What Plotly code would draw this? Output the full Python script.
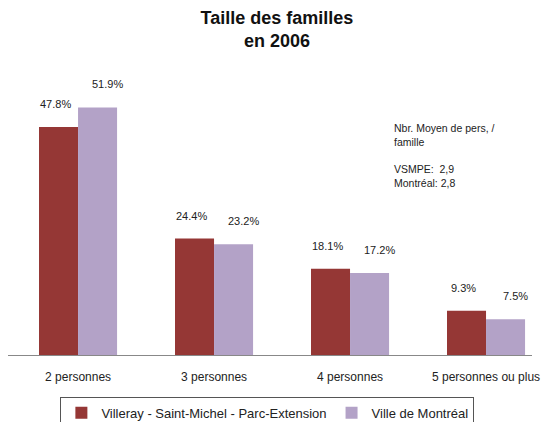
import plotly.graph_objects as go

# Family size, 2006 (share of families, %)
categories = ['2 personnes', '3 personnes', '4 personnes', '5 personnes ou plus']
vsmpe = [47.8, 24.4, 18.1, 9.3]
montreal = [51.9, 23.2, 17.2, 7.5]
series_names = ['Villeray - Saint-Michel - Parc-Extension', 'Ville de Montréal']
colors = ['#953735', '#B3A2C7']

FONT = 'Liberation Sans, Arial, sans-serif'
x_idx = list(range(len(categories)))

fig = go.Figure()
fig.add_trace(go.Bar(x=x_idx, y=vsmpe, name=series_names[0],
                     marker=dict(color=colors[0], line_width=0)))
fig.add_trace(go.Bar(x=x_idx, y=montreal, name=series_names[1],
                     marker=dict(color=colors[1], line_width=0)))

# Data labels above each bar
bar_offset = 0.145
for vals, off, xs in [(vsmpe, -bar_offset, -3), (montreal, bar_offset, 10)]:
    for i, v in enumerate(vals):
        fig.add_annotation(x=i + off, y=v, text=f'{v:.1f}%', showarrow=False,
                           yshift=23, xshift=xs, font=dict(size=11, color='#222'))

# Average family size note
fig.add_annotation(xref='paper', yref='paper', x=0.733, y=0.855,
                   xanchor='left', yanchor='top', align='left', showarrow=False,
                   text='Nbr. Moyen de pers, /<br>famille<br><br>VSMPE:  2,9<br>Montréal: 2,8',
                   font=dict(size=10.5, color='#222'))

fig.update_layout(
    width=542, height=422,
    margin=dict(l=8, r=10, t=80, b=67, autoexpand=False),
    paper_bgcolor='white', plot_bgcolor='white',
    font=dict(family=FONT, size=11, color='#222'),
    title=dict(text='<b>Taille des familles<br>en 2006</b>', x=0.511, xanchor='center',
               y=0.944, yanchor='top', font=dict(size=18, color='#111')),
    barmode='group', bargap=0.426, bargroupgap=0,
    showlegend=True,
    legend=dict(orientation='h', x=0.495, xanchor='center', yref='container',
                y=0.022, yanchor='middle',
                bordercolor='#555', borderwidth=1, font=dict(size=13),
                itemsizing='constant'),
    xaxis=dict(tickvals=x_idx, ticktext=categories, range=[-0.515, 3.338],
               showline=True, linecolor='#888', linewidth=1, ticks='',
               showgrid=False, zeroline=False, ticklabelstandoff=11,
               automargin=False, tickfont=dict(size=12)),
    yaxis=dict(range=[0, 57.65], visible=False, showgrid=False, automargin=False),
)

# drop the browser's default body margin so the figure sits at the page corner
fig.write_html('out.html', config={'displayModeBar': False},
               post_script="document.body.style.margin='0';")
